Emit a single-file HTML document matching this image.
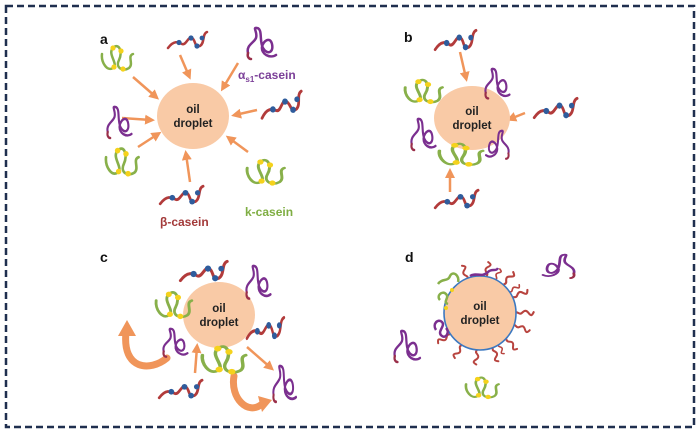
<!DOCTYPE html>
<html><head><meta charset="utf-8"><style>
html,body{margin:0;padding:0;background:#fff;}
svg{display:block;}
text{font-family:"Liberation Sans",sans-serif;font-weight:bold;}
</style></head><body>
<svg width="700" height="434" viewBox="0 0 700 434" xmlns="http://www.w3.org/2000/svg">
<defs>
<marker id="ah" viewBox="0 0 10 10" refX="6" refY="5" markerWidth="4" markerHeight="4" orient="auto"><path d="M0,0 L10,5 L0,10 z" fill="#f0955a"/></marker>
<g id="beta">
<path d="M2,18 C8,10 12,12 16,14 C20,16 22,6 26,8 C30,10 28,18 34,16 C39,13 36,4 41,2" fill="none" stroke="#b23b3b" stroke-width="2.5" stroke-linecap="round"/>
<circle cx="13" cy="12.5" r="2.6" fill="#2f5c9c"/><circle cx="25" cy="8" r="2.6" fill="#2f5c9c"/><circle cx="31" cy="16" r="2.6" fill="#2f5c9c"/><circle cx="36" cy="8" r="2.4" fill="#2f5c9c"/>
</g>
<g id="alpha">
<path d="M2,26 C0,18 8,16 10,11 C12,5 6,0 11,1 C17,2 13,14 17,21 C21,28 28,26 26,17 C24,9 17,14 16,20 C15,27 24,32 30,28" fill="none" stroke="#7b2f8f" stroke-width="2.5" stroke-linecap="round"/>
<path d="M2,26 C1,30 3,32 5,32" fill="none" stroke="#9a2f4a" stroke-width="2.5" stroke-linecap="round"/>
</g>
<g id="kappa">
<path d="M1,12 C0,20 6,30 12,26 C18,22 6,12 12,6 C18,0 22,10 18,18 C14,26 22,30 28,26 C33,22 26,14 32,12" fill="none" stroke="#88b04a" stroke-width="2.5" stroke-linecap="round"/>
<circle cx="12" cy="6" r="2.6" fill="#f5d21c"/><circle cx="20" cy="9" r="2.6" fill="#f5d21c"/><circle cx="13" cy="25" r="2.6" fill="#f5d21c"/><circle cx="22" cy="27" r="2.6" fill="#f5d21c"/>
</g>
<path id="t" d="M0,0 c3,-3 5,3 8,0 s5,-4 8,0 s4,3 6,-1" fill="none" stroke="#b8443f" stroke-width="2.5" stroke-linecap="round"/>
</defs>

<rect x="6" y="6" width="688" height="421" fill="none" stroke="#1f2f4f" stroke-width="2.5" stroke-dasharray="7,4"/>

<!-- Panel a -->
<text x="100" y="44" font-size="14" fill="#111">a</text>
<g stroke="#f0955a" stroke-width="2.5" marker-end="url(#ah)">
<line x1="133" y1="77" x2="156" y2="97"/>
<line x1="180" y1="55" x2="189" y2="76"/>
<line x1="238" y1="63" x2="223" y2="88"/>
<line x1="257" y1="110" x2="235" y2="115"/>
<line x1="248" y1="152" x2="229" y2="138"/>
<line x1="190" y1="182" x2="186" y2="154"/>
<line x1="138" y1="147" x2="158" y2="134"/>
<line x1="122" y1="118" x2="151" y2="120"/>
</g>
<ellipse cx="193" cy="116" rx="36" ry="33" fill="#f9caa6"/>
<text x="193" y="113" font-size="11.5" fill="#222" text-anchor="middle">oil</text>
<text x="193" y="127" font-size="11.5" fill="#222" text-anchor="middle">droplet</text>
<use href="#kappa" transform="translate(101,42)"/>
<use href="#beta" transform="translate(166,30)"/>
<use href="#alpha" transform="translate(246,27)"/>
<use href="#beta" transform="translate(258,93) scale(1.1,1.2) rotate(-10 20 10)"/>
<use href="#kappa" transform="translate(246,156) scale(1.2,1)"/>
<use href="#beta" transform="translate(158,184) scale(1.1)"/>
<use href="#kappa" transform="translate(105,144) scale(1.05,1.1)"/>
<use href="#alpha" transform="translate(106,106) scale(0.85,1)"/>
<text x="238" y="79" font-size="12" fill="#7b3f98">α<tspan font-size="8" dy="3">s1</tspan><tspan dy="-3">-casein</tspan></text>
<text x="160" y="226" font-size="12" fill="#a33a3a">β-casein</text>
<text x="245" y="216" font-size="12" fill="#7fae43">k-casein</text>

<!-- Panel b -->
<text x="404" y="42" font-size="14" fill="#111">b</text>
<g stroke="#f0955a" stroke-width="2.5" marker-end="url(#ah)">
<line x1="460" y1="52" x2="466" y2="78"/>
<line x1="525" y1="113" x2="510" y2="119"/>
<line x1="450" y1="192" x2="450" y2="172"/>
</g>
<ellipse cx="472" cy="118" rx="38" ry="32" fill="#f9caa6"/>
<text x="472" y="115" font-size="11.5" fill="#222" text-anchor="middle">oil</text>
<text x="472" y="129" font-size="11.5" fill="#222" text-anchor="middle">droplet</text>
<use href="#beta" transform="translate(433,28) scale(1.05,1.2)"/>
<use href="#alpha" transform="translate(484,68) scale(0.85,0.95)"/>
<use href="#kappa" transform="translate(404,76) scale(1.2,0.95)"/>
<use href="#beta" transform="translate(532,96) scale(1.1,1.2)"/>
<use href="#alpha" transform="translate(410,118) scale(0.85,1)"/>
<use href="#kappa" transform="translate(438,140) scale(1.4,0.9)"/>
<use href="#alpha" transform="translate(510,130) scale(-0.8,0.9)"/>
<use href="#beta" transform="translate(433,188) scale(1.1)"/>

<!-- Panel c -->
<text x="100" y="262" font-size="14" fill="#111">c</text>
<g stroke="#f0955a" stroke-width="2.5" marker-end="url(#ah)">
<line x1="195" y1="373" x2="197" y2="347"/>
<line x1="247" y1="347" x2="271" y2="368"/>
</g>
<path d="M167,358 C150,372 122,370 126,332" fill="none" stroke="#f0955a" stroke-width="7" stroke-linecap="round"/>
<path d="M118,336 L127,320 L136,336 z" fill="#f0955a"/>
<path d="M234,376 C230,398 248,416 262,404" fill="none" stroke="#f0955a" stroke-width="7" stroke-linecap="round"/>
<path d="M258,396 L272,400 L262,412 z" fill="#f0955a"/>
<ellipse cx="219" cy="315" rx="36" ry="33" fill="#f9caa6"/>
<text x="219" y="312" font-size="11.5" fill="#222" text-anchor="middle">oil</text>
<text x="219" y="326" font-size="11.5" fill="#222" text-anchor="middle">droplet</text>
<use href="#beta" transform="translate(178,259) scale(1.2,1.2)"/>
<use href="#alpha" transform="translate(245,265) scale(0.85,1.05)"/>
<use href="#kappa" transform="translate(155,288) scale(1.15,1.05)"/>
<use href="#beta" transform="translate(245,315) scale(0.95,1.3)"/>
<use href="#alpha" transform="translate(162,328) scale(0.85,0.9)"/>
<use href="#kappa" transform="translate(201,342) scale(1.4,1.1)"/>
<use href="#beta" transform="translate(157,378) scale(1.1)"/>
<use href="#alpha" transform="translate(272,365) scale(0.8,1.15)"/>

<!-- Panel d -->
<text x="405" y="262" font-size="14" fill="#111">d</text>
<g>
<use href="#t" transform="translate(480,313) rotate(-110) translate(33,0) scale(0.8)"/>
<use href="#t" transform="translate(480,313) rotate(-80) translate(34,0) scale(0.8)"/>
<use href="#t" transform="translate(480,313) rotate(-50) translate(34,0) scale(0.85)"/>
<use href="#t" transform="translate(480,313) rotate(-25) translate(34,0) scale(0.85)"/>
<use href="#t" transform="translate(480,313) rotate(0) translate(35,0) scale(0.85)"/>
<use href="#t" transform="translate(480,313) rotate(20) translate(35,0) scale(0.8)"/>
<use href="#t" transform="translate(480,313) rotate(45) translate(34,0) scale(0.8)"/>
<use href="#t" transform="translate(480,313) rotate(70) translate(34,0) scale(0.8)"/>
<use href="#t" transform="translate(480,313) rotate(95) translate(34,0) scale(0.8)"/>
<use href="#t" transform="translate(480,313) rotate(120) translate(34,0) scale(0.8)"/>
<use href="#t" transform="translate(480,313) rotate(145) translate(34,0) scale(0.8)"/>
<use href="#t" transform="translate(480,313) rotate(-65) translate(34,0) scale(0.65)"/>
<use href="#t" transform="translate(480,313) rotate(-35) translate(34,0) scale(0.65)"/>
<use href="#t" transform="translate(480,313) rotate(60) translate(34,0) scale(0.6)"/>
</g>
<ellipse cx="480" cy="313" rx="36" ry="37" fill="#f9caa6" stroke="#3c78c0" stroke-width="1.6"/>
<path d="M438,284 c4,-6 10,-2 12,-8 c3,-6 10,0 8,6" fill="none" stroke="#88b04a" stroke-width="2.5"/>
<path d="M440,300 c-4,-4 2,-10 6,-6 c4,4 -4,8 2,10" fill="none" stroke="#88b04a" stroke-width="2.5"/>
<circle cx="452" cy="290" r="2" fill="#f5d21c"/><circle cx="446" cy="308" r="2" fill="#f5d21c"/>
<path d="M436,330 c-4,-6 2,-12 6,-8 c4,4 -6,10 0,14 c4,3 8,-4 4,-8" fill="none" stroke="#7b2f8f" stroke-width="2.5"/>
<path d="M470,276 c6,-4 12,2 18,-4 c4,-4 8,0 10,-4" fill="none" stroke="#7b2f8f" stroke-width="2.5"/>
<text x="480" y="310" font-size="11.5" fill="#222" text-anchor="middle">oil</text>
<text x="480" y="324" font-size="11.5" fill="#222" text-anchor="middle">droplet</text>
<use href="#alpha" transform="translate(576,254) scale(-1.1,0.75)"/>
<use href="#alpha" transform="translate(393,330) scale(0.9,1)"/>
<use href="#kappa" transform="translate(465,374) scale(1.05,0.85)"/>
</svg>
</body></html>
